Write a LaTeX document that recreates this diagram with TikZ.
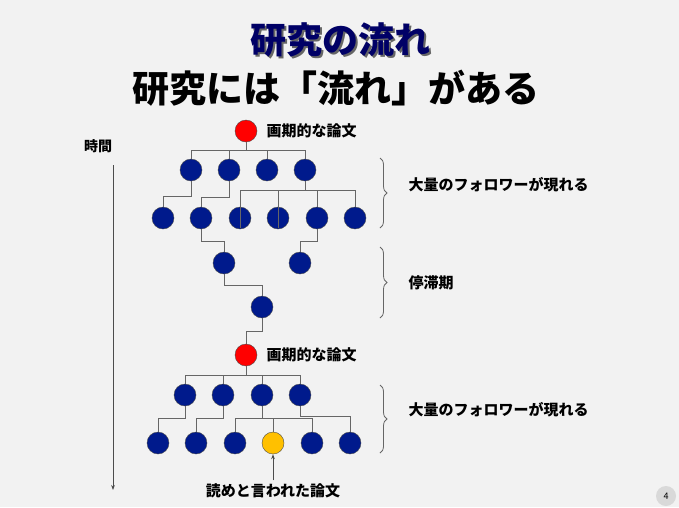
\documentclass[tikz,border=0pt]{standalone}
\usepackage{fontspec}
\setmainfont{Noto Sans CJK JP}
\usetikzlibrary{decorations.pathreplacing,arrows.meta}
\definecolor{yl}{HTML}{FFC000}
\definecolor{nv}{HTML}{001A8C}
\begin{document}
\begin{tikzpicture}[x=1pt,y=-1pt,
  n/.style={circle,draw=black!70,fill=nv,minimum size=22pt,inner sep=0pt},
  r/.style={n,fill=red},
  yel/.style={n,fill=yl},
  e/.style={draw=black!60,line width=0.8pt},
  lab/.style={font=\bfseries\fontsize{15}{17}\selectfont,anchor=west},
  br/.style={decorate,decoration={brace,amplitude=7pt},draw=black!60,line width=0.8pt}]
\fill[black!5] (0,0) rectangle (679,507);
\useasboundingbox (0,0) rectangle (679,507);
\node[font=\bfseries\fontsize{36}{40}\selectfont,text=black!60] at (342,42) {研究の流れ};
\node[font=\bfseries\fontsize{36}{40}\selectfont,text=blue!40!black] (t1) at (340,40) {研究の流れ};
\node[font=\bfseries\fontsize{37}{41}\selectfont] (t2) at (336,88) {研究には「流れ」がある};
\node[font=\bfseries\fontsize{14}{16}\selectfont] (tm) at (98,146) {時間};
\coordinate (ta) at (113,165); \coordinate (tb) at (113,490);
\draw[-{Stealth[length=5pt]},black!70,line width=0.8pt] (ta) -- (tb);
% top
\node[r] (R1) at (246,131) {};
\node[lab] at (263,131) {画期的な論文};
\foreach \x[count=\i] in {191,229,267,305} \node[n] (a\i) at (\x,170) {};
\foreach \x[count=\i] in {163,201,240,278,317,355} \node[n] (b\i) at (\x,218) {};
\node[n] (c1) at (224,263) {}; \node[n] (c2) at (300,263) {};
\node[n] (d1) at (262,307) {};
\node[r] (R2) at (246,355) {};
\node[lab] at (263,355) {画期的な論文};
\foreach \x[count=\i] in {185,223,262,300} \node[n] (e\i) at (\x,395) {};
\foreach \x[count=\i] in {158,196,235,312,350} \node[n] (f\i) at (\x,443) {};
\node[yel] (y) at (273,443) {};
\node[font=\bfseries\fontsize{15}{17}\selectfont] (yl) at (273,491) {読めと言われた論文};
\draw[-{Stealth[length=5pt]},black!70,line width=0.8pt] (yl.north) -- (y.south);
% edges top
\foreach \i in {1,...,4} \draw[e] (R1.south) |- (191,150) -| (a\i.north);
\draw[e] (a1.south) |- (163,196) -| (b1.north);
\draw[e] (a2.south) |- (201,197) -| (b2.north);
\foreach \i in {3,...,6} \draw[e] (a4.south) |- (240,190) -| (b\i.north);
\draw[e] (240,190) -- (240,228); \draw[e] (278,190) -- (278,228);
\draw[e] (b2.south) |- (224,241) -| (c1.north);
\draw[e] (b5.south) |- (300,241) -| (c2.north);
\draw[e] (c1.south) |- (262,285) -| (d1.north);
\draw[e] (d1.south) |- (246,331) -| (R2.north);
% edges bottom
\foreach \i in {1,...,4} \draw[e] (R2.south) |- (185,375) -| (e\i.north);
\draw[e] (e1.south) |- (158,418) -| (f1.north);
\draw[e] (e2.south) |- (196,418) -| (f2.north);
\draw[e] (e3.south) |- (235,418) -| (f3.north);
\draw[e] (e3.south) |- (273,418) -| (y.north);
\draw[e] (e3.south) |- (312,418) -| (f4.north);
\draw[e] (e4.south) |- (350,416) -| (f5.north);
% braces
\draw[br] (380,158) -- (380,228); \node[lab] at (405,185) {大量のフォロワーが現れる};
\draw[br] (380,247) -- (380,318); \node[lab] at (405,283) {停滞期};
\draw[br] (380,385) -- (380,453); \node[lab] at (405,410) {大量のフォロワーが現れる};
\node[circle,fill=black!15,minimum size=20pt,inner sep=0pt,font=\fontsize{9}{10}\selectfont] (pg) at (666,496) {4};
\end{tikzpicture}
\end{document}
